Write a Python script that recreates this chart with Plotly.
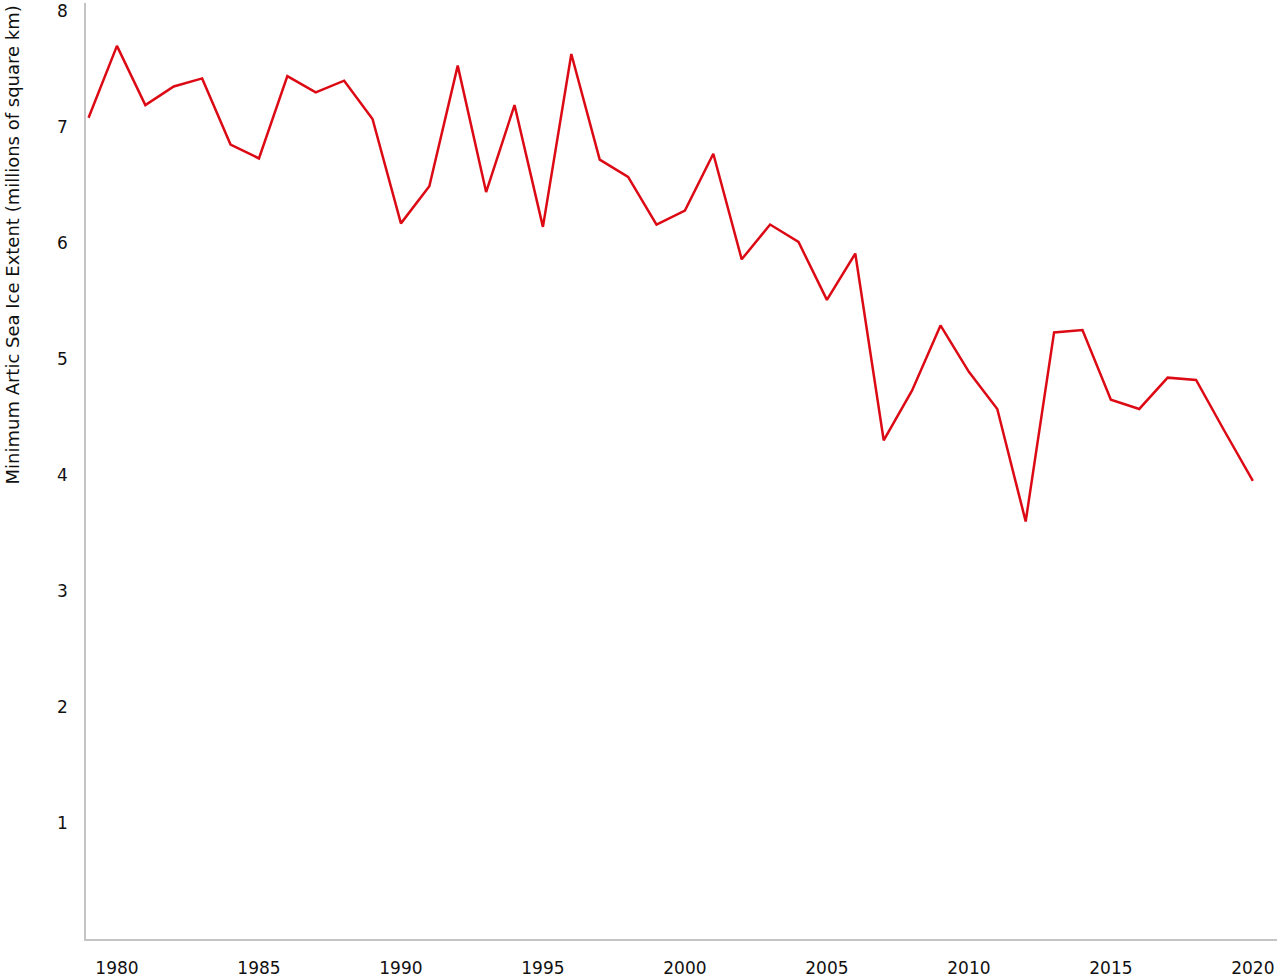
import plotly.graph_objects as go

# Minimum Arctic sea ice extent
years = list(range(1979, 2021))
extent = [
    7.08, 7.70, 7.19, 7.35, 7.42, 6.85, 6.73, 7.44, 7.30, 7.40,
    7.07, 6.17, 6.49, 7.53, 6.44, 7.19, 6.14, 7.63, 6.72, 6.57,
    6.16, 6.28, 6.77, 5.86, 6.16, 6.01, 5.51, 5.91, 4.30, 4.73,
    5.29, 4.89, 4.57, 3.60, 5.23, 5.25, 4.65, 4.57, 4.84, 4.82,
    4.38, 3.95,
]
x_ticks = [1980, 1985, 1990, 1995, 2000, 2005, 2010, 2015, 2020]
y_ticks = [1, 2, 3, 4, 5, 6, 7, 8]
y_title = 'Minimum Artic Sea Ice Extent (millions of square km)'

font = 'DejaVu Sans'

fig = go.Figure()
fig.add_trace(go.Scatter(
    x=years,
    y=extent,
    mode='lines',
    line=dict(color='#dc0a14', width=2.5),
    showlegend=False,
))

fig.update_layout(
    width=1280,
    height=978,
    margin=dict(l=86, r=3, t=3, b=39),
    paper_bgcolor='white',
    plot_bgcolor='white',
    font=dict(family=font, size=17, color='#111111'),
)

fig.update_xaxes(
    range=[1978.91, 2020.85],
    tickvals=x_ticks,
    showgrid=False,
    zeroline=False,
    showline=True,
    linecolor='#c4c4c4',
    linewidth=1.5,
    ticks='outside',
    ticklen=13,
    tickcolor='rgba(0,0,0,0)',
    automargin=False,
)
fig.update_yaxes(
    range=[0, 8.07],
    tickvals=y_ticks,
    showgrid=False,
    zeroline=False,
    showline=True,
    linecolor='#c4c4c4',
    linewidth=1.5,
    ticks='outside',
    ticklen=13,
    tickcolor='rgba(0,0,0,0)',
    automargin=False,
)

# Axis title sits at the top of the y-axis, so it is drawn as an annotation
fig.add_annotation(
    text=y_title,
    textangle=-90,
    xref='paper', yref='paper',
    x=0, y=1,
    xanchor='center', yanchor='top',
    xshift=-74,
    yshift=-1,
    showarrow=False,
    font=dict(family=font, size=18, color='#111111'),
)

# drop the page's default body margin so the figure sits at the top-left corner
fig.write_html(
    'out.html',
    config={'displayModeBar': False},
    post_script="document.body.style.margin = '0';",
)
